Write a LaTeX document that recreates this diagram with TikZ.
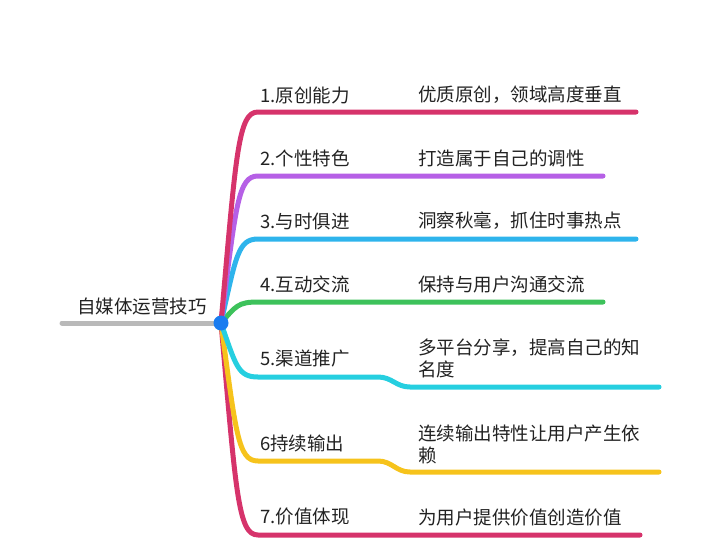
\documentclass[tikz,border=0pt]{standalone}
\usepackage{fontspec}
\newfontfamily\cjk{Noto Sans CJK SC}
\definecolor{crim}{HTML}{D6336B}
\definecolor{purp}{HTML}{B660E6}
\definecolor{sky}{HTML}{2EB4EC}
\definecolor{grn}{HTML}{3DC25B}
\definecolor{cyn}{HTML}{26CFE0}
\definecolor{yel}{HTML}{F6C31C}
\definecolor{gry}{HTML}{B9B9B9}
\definecolor{dotb}{HTML}{1A7CF0}
\definecolor{txt}{HTML}{222222}
\tikzset{
  branch/.style={line width=5pt, line cap=round, line join=round},
  lbl/.style={anchor=west, inner sep=0pt, text=txt, font=\cjk\fontsize{18.5}{22}\selectfont, align=left},
}
\begin{document}
\begin{tikzpicture}[x=1pt,y=-1pt]
\useasboundingbox (0,0) rectangle (720,550);
\coordinate (hub) at (221,323);
\coordinate (rs) at (62,323);
% branch start / end points
\coordinate (b1s) at (258,112); \coordinate (b1e) at (636,112);
\coordinate (b2s) at (258,176); \coordinate (b2e) at (603,176);
\coordinate (b3s) at (258,239); \coordinate (b3e) at (636,239);
\coordinate (b4s) at (258,302); \coordinate (b4e) at (603,302);
\coordinate (b5s) at (258,377); \coordinate (b5m) at (378,377); \coordinate (b5n) at (410,387); \coordinate (b5e) at (659,387);
\coordinate (b6s) at (258,461); \coordinate (b6m) at (378,461); \coordinate (b6n) at (410,472); \coordinate (b6e) at (659,472);
\coordinate (b7s) at (258,535); \coordinate (b7e) at (640,535);

\draw[branch, gry] (rs) -- (hub);
\draw[branch, crim] (hub) .. controls (236,493) and (238,535) .. (b7s) -- (b7e);
\draw[branch, yel] (hub) .. controls (236,434) and (238,461) .. (b6s) -- (b6m) .. controls (392,461) and (396,472) .. (b6n) -- (b6e);
\draw[branch, cyn] (hub) .. controls (236,366) and (238,377) .. (b5s) -- (b5m) .. controls (392,377) and (396,387) .. (b5n) -- (b5e);
\draw[branch, grn] (hub) .. controls (236,306) and (238,302) .. (b4s) -- (b4e);
\draw[branch, sky] (hub) .. controls (236,256) and (238,239) .. (b3s) -- (b3e);
\draw[branch, purp] (hub) .. controls (236,205) and (238,176) .. (b2s) -- (b2e);
\draw[branch, crim] (hub) .. controls (236,154) and (238,112) .. (b1s) -- (b1e);
\fill[dotb] (hub) circle (7.5);
\node[circle, inner sep=0pt, minimum size=15pt] (hubnode) at (hub) {};

\node[lbl] (root) at (77,306) {自媒体运营技巧};

\node[lbl] (l1) at (260,95) {1.原创能力};
\node[lbl] (l2) at (260,158) {2.个性特色};
\node[lbl] (l3) at (260,221) {3.与时俱进};
\node[lbl] (l4) at (260,284) {4.互动交流};
\node[lbl] (l5) at (260,359) {5.渠道推广};
\node[lbl] (l6) at (260,443) {6持续输出};
\node[lbl] (l7) at (260,517) {7.价值体现};

\node[lbl] (t1) at (418,95) {优质原创，领域高度垂直};
\node[lbl] (t2) at (418,158) {打造属于自己的调性};
\node[lbl] (t3) at (418,221) {洞察秋毫，抓住时事热点};
\node[lbl] (t4) at (418,284) {保持与用户沟通交流};
\node[lbl] (t5) at (418,358) {多平台分享，提高自己的知\\名度};
\node[lbl] (t6) at (418,444) {连续输出特性让用户产生依\\赖};
\node[lbl] (t7) at (418,517) {为用户提供价值创造价值};
\end{tikzpicture}
\end{document}
